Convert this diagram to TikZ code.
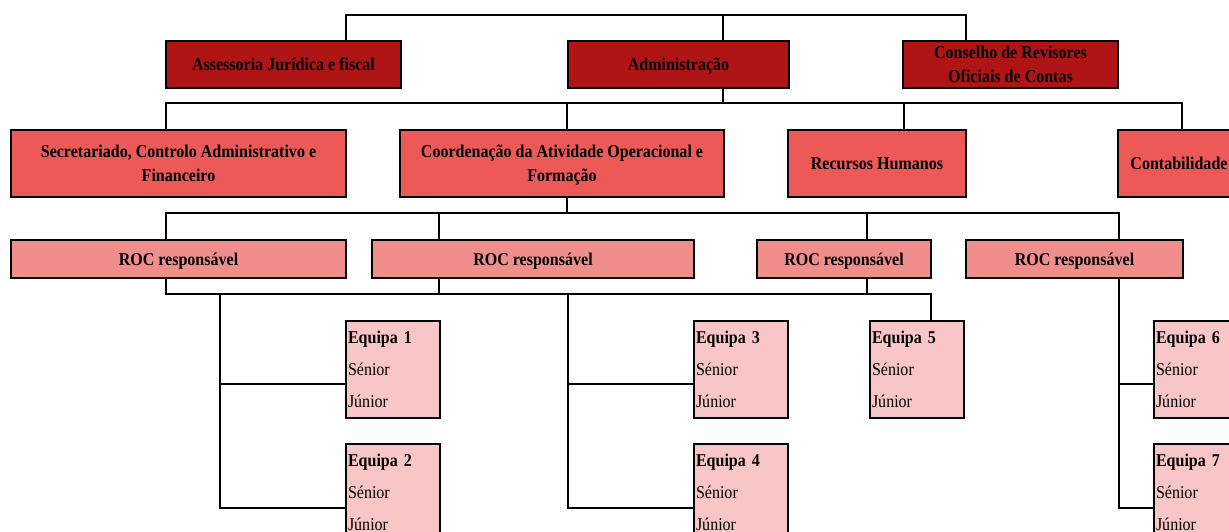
\documentclass[tikz,border=0pt]{standalone}
\usepackage{fontspec}
\setmainfont{Liberation Serif}[FakeStretch=0.89]
\definecolor{dred}{HTML}{AF1515}
\definecolor{mred}{HTML}{EC5956}
\definecolor{lred}{HTML}{F08E8B}
\definecolor{pred}{HTML}{F8C6C6}
\tikzset{
  box/.style={draw=black, line width=2pt, inner sep=2pt, align=center, text depth=0pt,
    font=\fontsize{18}{24}\selectfont\bfseries},
  lvlone/.style={box, fill=dred, minimum height=47pt},
  lvltwo/.style={box, fill=mred, minimum height=67pt},
  rocbox/.style={box, fill=lred, minimum height=38pt},
  eqbox/.style={draw=black, line width=2pt, fill=pred, inner xsep=2pt, inner ysep=0pt,
    text width=90pt, align=left, minimum height=97pt,
    font=\fontsize{18}{32}\selectfont},
  conn/.style={draw=black, line width=1.2pt}
}
\begin{document}
\begin{tikzpicture}[x=1pt, y=-1pt]
\clip (0,0) rectangle (1229,532);
\fill[white] (0,0) rectangle (1229,532);
% level one
\node[lvlone, minimum width=235pt] (aj) at (283.5,64.5) {Assessoria Jurídica e fiscal};
\node[lvlone, minimum width=221pt] (adm) at (678.5,64.5) {Administração};
\node[lvlone, minimum width=215pt] (cr) at (1010.5,64.5) {Conselho de Revisores\\Oficiais de Contas};
% level two
\node[lvltwo, minimum width=335pt] (sec) at (178.5,163.5) {Secretariado, Controlo Administrativo e\\Financeiro};
\node[lvltwo, minimum width=324pt] (coord) at (562,163.5) {Coordenação da Atividade Operacional e\\Formação};
\node[lvltwo, minimum width=178pt] (rh) at (877,163.5) {Recursos Humanos};
\node[lvltwo, minimum width=122pt] (cont) at (1179,163.5) {Contabilidade};
% ROC
\node[rocbox, minimum width=335pt] (roca) at (178.5,259) {ROC responsável};
\node[rocbox, minimum width=322pt] (rocb) at (533,259) {ROC responsável};
\node[rocbox, minimum width=174pt] (rocc) at (844,259) {ROC responsável};
\node[rocbox, minimum width=217pt] (rocd) at (1074.5,259) {ROC responsável};
% teams
\node[eqbox] (e1) at (393,369.5) {\textbf{Equipa 1}\\Sénior\\Júnior};
\node[eqbox] (e2) at (393,492.5) {\textbf{Equipa 2}\\Sénior\\Júnior};
\node[eqbox] (e3) at (741,369.5) {\textbf{Equipa 3}\\Sénior\\Júnior};
\node[eqbox] (e4) at (741,492.5) {\textbf{Equipa 4}\\Sénior\\Júnior};
\node[eqbox] (e5) at (917,369.5) {\textbf{Equipa 5}\\Sénior\\Júnior};
\node[eqbox] (e6) at (1201,369.5) {\textbf{Equipa 6}\\Sénior\\Júnior};
\node[eqbox] (e7) at (1201,492.5) {\textbf{Equipa 7}\\Sénior\\Júnior};
% bus coordinates
\coordinate (ta) at (346,15);
\coordinate (tb) at (723,15);
\coordinate (tc) at (966,15);
\coordinate (ma) at (166,103);
\coordinate (mb) at (567,103);
\coordinate (mc) at (723,103);
\coordinate (md) at (904,103);
\coordinate (me) at (1182,103);
\coordinate (ra) at (166,213);
\coordinate (rb) at (439,213);
\coordinate (rc) at (567,213);
\coordinate (rd) at (867,213);
\coordinate (re) at (1119,213);
\coordinate (qa) at (166,294);
\coordinate (qb) at (220,294);
\coordinate (qc) at (439,294);
\coordinate (qd) at (568,294);
\coordinate (qe) at (867,294);
\coordinate (qf) at (931,294);
\coordinate (bl1) at (220,384);
\coordinate (bl2) at (220,508);
\coordinate (bm1) at (568,384);
\coordinate (bm2) at (568,508);
\coordinate (br1) at (1119,384);
\coordinate (br2) at (1119,508);
% connectors level 0 -> 1
\draw[conn] (aj.north -| ta) -- (ta) -- (tc) -- (cr.north -| tc);
\draw[conn] (tb) -- (adm.north -| tb);
% level 1 -> 2
\draw[conn] (adm.south -| mc) -- (mc);
\draw[conn] (sec.north -| ma) -- (ma) -- (me) -- (cont.north -| me);
\draw[conn] (mb) -- (coord.north -| mb);
\draw[conn] (md) -- (rh.north -| md);
% level 2 -> ROC
\draw[conn] (coord.south -| rc) -- (rc);
\draw[conn] (roca.north -| ra) -- (ra) -- (re) -- (rocd.north -| re);
\draw[conn] (rb) -- (rocb.north -| rb);
\draw[conn] (rd) -- (rocc.north -| rd);
% ROC -> teams
\draw[conn] (roca.south -| qa) -- (qa) -- (qf) -- (e5.north -| qf);
\draw[conn] (rocb.south -| qc) -- (qc);
\draw[conn] (rocc.south -| qe) -- (qe);
\draw[conn] (qb) -- (bl2) -- (e2.west |- bl2);
\draw[conn] (bl1) -- (e1.west |- bl1);
\draw[conn] (qd) -- (bm2) -- (e4.west |- bm2);
\draw[conn] (bm1) -- (e3.west |- bm1);
\draw[conn] (rocd.south -| br1) -- (br2) -- (e7.west |- br2);
\draw[conn] (br1) -- (e6.west |- br1);
\end{tikzpicture}
\end{document}
